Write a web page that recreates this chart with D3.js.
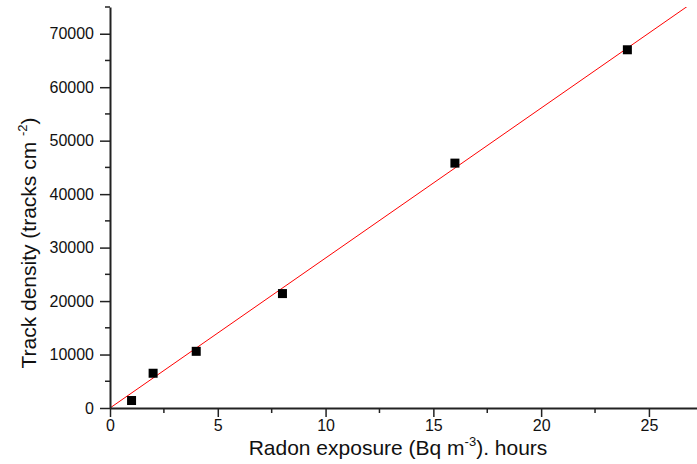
<!DOCTYPE html>
<html>
<head>
<meta charset="utf-8">
<script src="https://cdn.jsdelivr.net/npm/d3@7"></script>
<style>
  body { margin: 0; background: #fff; }
  svg { font-family: "Liberation Sans", Arial, sans-serif; }
</style>
</head>
<body>
<svg id="root" width="697" height="464"></svg>
<script>
// exposure (hours) vs track density
const exposure = [1, 2, 4, 8, 16, 24]
const density = [1400, 6500, 10600, 21400, 45800, 67000]
// linear fit through origin
const fitSlope = 2805
const fitIntercept = 0
const xTicks = [0, 5, 10, 15, 20, 25]
const yTicks = [0, 10000, 20000, 30000, 40000, 50000, 60000, 70000]

const svg = d3.select('#root')
const margin = { left: 110, right: 0, top: 7, bottom: 56 }
const W = 697, H = 464

const x = d3.scaleLinear().domain([0, 27.23]).range([margin.left, W - margin.right])
const y = d3.scaleLinear().domain([0, 75000]).range([H - margin.bottom, margin.top])

svg.append('defs').append('clipPath').attr('id', 'plot')
  .append('rect')
  .attr('x', x(0)).attr('y', y(75000))
  .attr('width', x(27.23) - x(0)).attr('height', y(0) - y(75000))

// fit line
svg.append('line')
  .attr('clip-path', 'url(#plot)')
  .attr('x1', x(0)).attr('y1', y(fitIntercept))
  .attr('x2', x(27.23)).attr('y2', y(fitIntercept + fitSlope * 27.23))
  .attr('stroke', '#ff0000')
  .attr('stroke-width', 1)

// points
const pts = exposure.map((e, i) => ({ e, d: density[i] }))
svg.selectAll('rect.pt').data(pts).enter().append('rect')
  .attr('class', 'pt')
  .attr('x', d => x(d.e) - 4.5)
  .attr('y', d => y(d.d) - 4.5)
  .attr('width', 9).attr('height', 9)
  .attr('fill', '#000')

// x axis
const xAxis = svg.append('g').attr('transform', `translate(0,${y(0)})`)
xAxis.call(d3.axisBottom(x).tickValues(xTicks).tickSize(9).tickSizeOuter(0).tickPadding(3))
xAxis.append('g').selectAll('line').data(d3.range(2.5, 27, 5)).enter().append('line')
  .attr('x1', d => x(d)).attr('x2', d => x(d)).attr('y1', 0).attr('y2', 5)
  .attr('stroke', '#222').attr('stroke-width', 1.5)

// y axis
const yAxis = svg.append('g').attr('transform', `translate(${x(0)},0)`)
yAxis.call(d3.axisLeft(y).tickValues(yTicks).tickFormat(d3.format('d')).tickSize(10).tickSizeOuter(0).tickPadding(6))
yAxis.append('g').selectAll('line').data(d3.range(5000, 75001, 10000)).enter().append('line')
  .attr('y1', d => y(d)).attr('y2', d => y(d)).attr('x1', 0).attr('x2', -5)
  .attr('stroke', '#222').attr('stroke-width', 1.5)

svg.selectAll('.domain').attr('stroke', '#222').attr('stroke-width', 2)
svg.selectAll('.tick line').attr('stroke', '#222').attr('stroke-width', 1.5)
svg.selectAll('.tick text').attr('font-size', 16).attr('fill', '#111')
  .attr('font-family', '"Liberation Sans", Arial, sans-serif')

// axis titles
const xt = svg.append('text')
  .attr('x', 398).attr('y', 455)
  .attr('text-anchor', 'middle')
  .attr('font-size', 21).attr('fill', '#111')
xt.append('tspan').text('Radon exposure (Bq m')
xt.append('tspan').attr('dy', -9).attr('font-size', 13).text('-3')
xt.append('tspan').attr('dy', 9).text('). hours')

const yt = svg.append('text')
  .attr('transform', 'translate(36,243) rotate(-90)')
  .attr('text-anchor', 'middle')
  .attr('font-size', 21).attr('fill', '#111')
yt.append('tspan').text('Track density (tracks cm ')
yt.append('tspan').attr('dy', -9).attr('font-size', 13).text('-2')
yt.append('tspan').attr('dy', 9).text(')')
</script>
</body>
</html>
